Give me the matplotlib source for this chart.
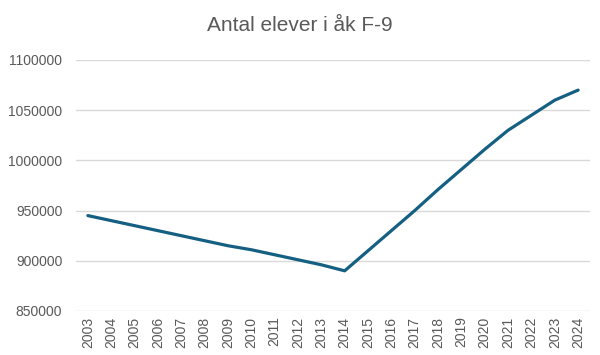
import matplotlib.pyplot as plt
from matplotlib.ticker import FuncFormatter

years = [str(y) for y in range(2003, 2025)]
students = [945000, 940000, 935000, 930000, 925000, 920000, 915000, 911000,
            906000, 901000, 896000, 890000, 910000, 930000, 950000, 971000,
            991000, 1011000, 1030000, 1045000, 1060000, 1070000]

plt.rcParams['font.family'] = ['Liberation Sans', 'DejaVu Sans']

fig = plt.figure(figsize=(6, 3.55), dpi=100)
ax = fig.add_axes([0.127, 0.124, 0.856, 0.707])

x = range(len(years))
ax.plot(x, students, color='#156082', linewidth=2.3, solid_capstyle='round')

ax.set_xlim(-0.5, len(years) - 0.5)
ax.set_ylim(850000, 1100000)
ax.set_yticks(range(850000, 1100001, 50000))
ax.yaxis.set_major_formatter(FuncFormatter(lambda v, p: f'{int(v)}'))
ax.set_xticks(list(x))
ax.set_xticklabels(years, rotation=90)
ax.tick_params(axis='both', length=0, labelsize=10, colors='#595959')
ax.tick_params(axis='y', pad=10)
ax.tick_params(axis='x', pad=4)

ax.grid(axis='y', color='#d9d9d9', linewidth=1)
ax.set_axisbelow(True)
for s in ax.spines.values():
    s.set_visible(False)

fig.suptitle('Antal elever i åk F-9', fontsize=15, color='#595959', y=0.955)

fig.savefig('out.png', dpi=100)
